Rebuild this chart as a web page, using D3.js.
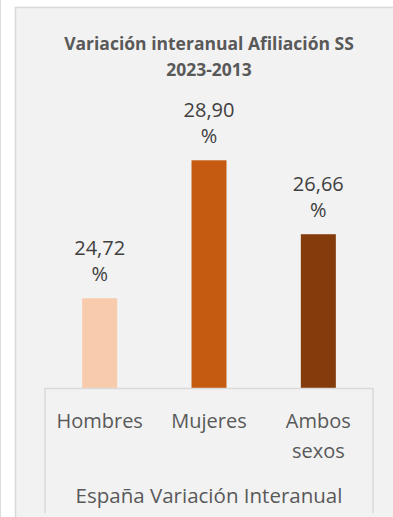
<!DOCTYPE html>
<html lang="es">
<head>
<meta charset="UTF-8">
<script src="https://d3js.org/d3.v7.min.js"></script>
<style>
    body { margin: 0; background: #fff; }
    text { font-family: "Open Sans", "Noto Sans", sans-serif; }
</style>
</head>
<body>
<div id="chart"></div>
<script>
    // data
    const categories = ["Hombres", "Mujeres", "Ambos sexos"];
    const values = [24.72, 28.90, 26.66];
    const barColors = ["#F8CBAD", "#C55A11", "#843C0C"];
    const titleLines = ["Variación interanual Afiliación SS", "2023-2013"];
    const groupLabel = "España Variación Interanual";
    const yDomain = [22, 30];

    const W = 393, H = 517;
    const plot = { left: 45, right: 373, top: 124, bottom: 388 };

    const svg = d3.select("#chart").append("svg")
        .attr("width", W)
        .attr("height", H);

    // outer thin line on the far left
    svg.append("line")
        .attr("x1", 0.5).attr("x2", 0.5)
        .attr("y1", 0).attr("y2", H)
        .attr("stroke", "#dcdcdc").attr("stroke-width", 1);

    // chart panel
    svg.append("rect")
        .attr("x", 15.5).attr("y", 7.5)
        .attr("width", 400).attr("height", 530)
        .attr("fill", "#f2f2f2")
        .attr("stroke", "#d9d9d9").attr("stroke-width", 1.5);

    const x = d3.scaleBand()
        .domain(categories)
        .range([plot.left, plot.right])
        .paddingInner(0.68)
        .paddingOuter(0.34);

    const y = d3.scaleLinear()
        .domain(yDomain)
        .range([plot.bottom, plot.top]);

    // title
    svg.append("text")
        .attr("x", 209).attr("y", 50)
        .attr("text-anchor", "middle")
        .attr("font-size", 17.5).attr("font-weight", "bold")
        .attr("fill", "#595959")
        .selectAll("tspan")
        .data(titleLines)
        .join("tspan")
        .attr("x", 209)
        .attr("dy", (d, i) => i === 0 ? 0 : 26)
        .text(d => d);

    // bars
    svg.selectAll("rect.bar")
        .data(values)
        .join("rect")
        .attr("class", "bar")
        .attr("x", (d, i) => x(categories[i]))
        .attr("y", d => y(d))
        .attr("width", x.bandwidth())
        .attr("height", d => y(yDomain[0]) - y(d))
        .attr("fill", (d, i) => barColors[i]);

    // data labels (two lines: number, then %)
    const lab = svg.selectAll("text.dl")
        .data(values)
        .join("text")
        .attr("class", "dl")
        .attr("text-anchor", "middle")
        .attr("font-size", 20)
        .attr("fill", "#404040");
    lab.append("tspan")
        .attr("x", (d, i) => x(categories[i]) + x.bandwidth() / 2)
        .attr("y", d => y(d) - 43)
        .text(d => d3.format(".2f")(d).replace(".", ","));
    lab.append("tspan")
        .attr("x", (d, i) => x(categories[i]) + x.bandwidth() / 2)
        .attr("y", d => y(d) - 17)
        .text("%");

    // category axis box
    const axisCol = "#d9d9d9";
    const ax = svg.append("g");
    ax.append("line")
        .attr("x1", plot.left).attr("x2", plot.right)
        .attr("y1", plot.bottom + 0.5).attr("y2", plot.bottom + 0.5)
        .attr("stroke", axisCol).attr("stroke-width", 1.5);
    ax.selectAll("line.side")
        .data([plot.left, plot.right])
        .join("line")
        .attr("class", "side")
        .attr("x1", d => d).attr("x2", d => d)
        .attr("y1", plot.bottom).attr("y2", 513)
        .attr("stroke", axisCol).attr("stroke-width", 1.5);

    // category labels, wrapped on space when needed
    const cat = ax.selectAll("text.cat")
        .data(categories)
        .join("text")
        .attr("class", "cat")
        .attr("text-anchor", "middle")
        .attr("font-size", 20)
        .attr("fill", "#595959");
    cat.each(function (d) {
        const words = d.split(" ");
        const cx = x(d) + x.bandwidth() / 2;
        d3.select(this).selectAll("tspan")
            .data(words)
            .join("tspan")
            .attr("x", cx)
            .attr("y", (w, i) => 428 + i * 30)
            .text(w => w);
    });

    ax.append("text")
        .attr("x", (plot.left + plot.right) / 2)
        .attr("y", 503)
        .attr("text-anchor", "middle")
        .attr("font-size", 20.5)
        .attr("fill", "#595959")
        .text(groupLabel);
</script>
</body>
</html>
